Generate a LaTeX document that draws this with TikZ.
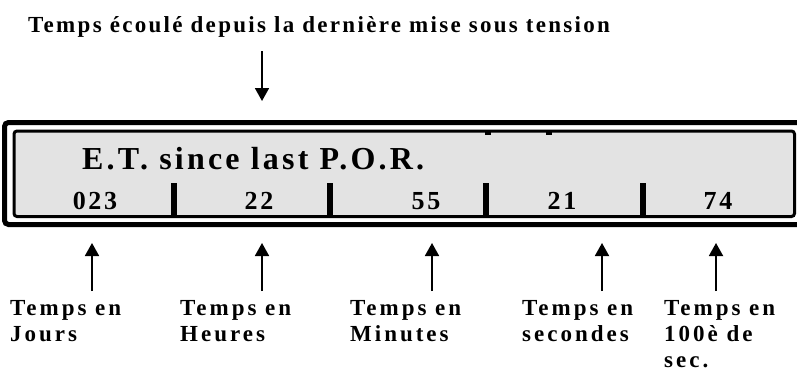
\documentclass[tikz,border=0pt]{standalone}
\usepackage{fontspec}
\setmainfont{Liberation Serif}
\newfontfamily\spacedfont[LetterSpace=10]{Liberation Serif}
\newfontfamily\widefont[LetterSpace=13]{Liberation Serif}
\usetikzlibrary{arrows.meta}

\definecolor{panelgray}{HTML}{E3E3E3}

\tikzset{
  lbl/.style={anchor=north west, inner sep=0pt, align=left,
    font=\widefont\bfseries\fontsize{23}{26}\selectfont},
  digit/.style={anchor=base, inner sep=0pt,
    font=\spacedfont\bfseries\fontsize{26}{28}\selectfont},
  pointer/.style={line width=1.8pt, -{Triangle[width=14pt,length=13pt]}},
  divider/.style={fill=black},
}

\begin{document}
\begin{tikzpicture}[x=1pt,y=-1pt]
\useasboundingbox (0,0) rectangle (797,372);

% heading and its pointer
\node[anchor=base west, inner sep=0pt,
  font=\spacedfont\bfseries\fontsize{23}{27}\selectfont] (title) at (28,32)
  {Temps écoulé depuis la dernière mise sous tension};
\coordinate (tsrc) at (262,51);
\coordinate (tdst) at (262,101);
\draw[pointer] (tsrc) -- (tdst);

% display frame
\draw[line width=5pt, rounded corners=4pt] (4.5,122.5) rectangle (812,224.5);
\draw[line width=3pt, rounded corners=3pt, fill=panelgray] (14,131) rectangle (794.5,216.5);

% field separators
\fill[divider] (171,183) rectangle (177,216);
\fill[divider] (327,183) rectangle (333,216);
\fill[divider] (483,183) rectangle (489,216);
\fill[divider] (640,183) rectangle (646,216);
\fill[divider] (485,132) rectangle (491,135);
\fill[divider] (546,132) rectangle (552,135);

% display contents
\node[anchor=base west, inner sep=0pt,
  font=\spacedfont\bfseries\fontsize{32}{34}\selectfont] (head) at (82,169) {E.T. since last P.O.R.};
\node[digit] (d1) at (95,209) {023};
\node[digit] (d2) at (259,209) {22};
\node[digit] (d3) at (426,209) {55};
\node[digit] (d4) at (562,209) {21};
\node[digit] (d5) at (718,209) {74};

% captions
\node[lbl] (c1) at (10,300) {Temps en\\Jours};
\node[lbl] (c2) at (180,300) {Temps en\\Heures};
\node[lbl] (c3) at (350,300) {Temps en\\Minutes};
\node[lbl] (c4) at (522,300) {Temps en\\secondes};
\node[lbl] (c5) at (664,300) {Temps en\\100è de\\sec.};

% caption pointers
\foreach \i/\x in {1/92,2/262,3/432,4/602,5/716}{
  \coordinate (p\i) at (\x,291);
  \coordinate (q\i) at (\x,243);
  \draw[pointer] (p\i) -- (q\i);
}
\end{tikzpicture}
\end{document}
